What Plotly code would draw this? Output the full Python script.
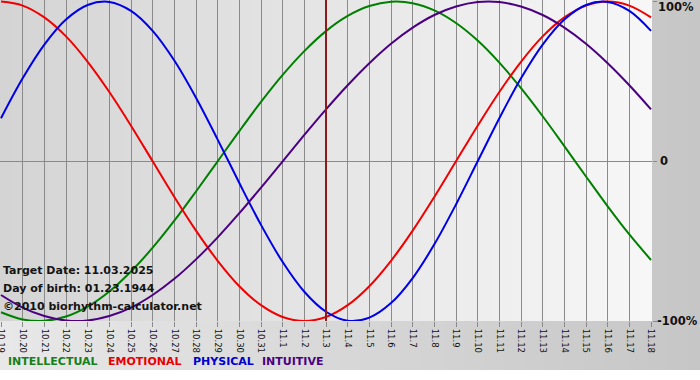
import plotly.graph_objects as go

# ---------------- data ----------------
dates = ["10.19", "10.20", "10.21", "10.22", "10.23", "10.24", "10.25", "10.26",
         "10.27", "10.28", "10.29", "10.30", "10.31", "11.1", "11.2", "11.3",
         "11.4", "11.5", "11.6", "11.7", "11.8", "11.9", "11.10", "11.11",
         "11.12", "11.13", "11.14", "11.15", "11.16", "11.17", "11.18"]

intellectual = [-0.945, -0.990, -0.999, -0.972, -0.910, -0.815, -0.690, -0.541,
                -0.372, -0.189, 0.000, 0.189, 0.372, 0.541, 0.690, 0.815,
                0.910, 0.972, 0.999, 0.990, 0.945, 0.866, 0.756, 0.618,
                0.458, 0.282, 0.095, -0.095, -0.282, -0.458, -0.618]

emotional = [1.000, 0.975, 0.901, 0.782, 0.623, 0.434, 0.223, 0.000,
             -0.223, -0.434, -0.623, -0.782, -0.901, -0.975, -1.000, -0.975,
             -0.901, -0.782, -0.623, -0.434, -0.223, 0.000, 0.223, 0.434,
             0.623, 0.782, 0.901, 0.975, 1.000, 0.975, 0.901]

physical = [0.270, 0.520, 0.731, 0.888, 0.979, 0.998, 0.942, 0.817,
            0.631, 0.398, 0.136, -0.136, -0.398, -0.631, -0.817, -0.942,
            -0.998, -0.979, -0.888, -0.731, -0.520, -0.270, 0.000, 0.270,
            0.520, 0.731, 0.888, 0.979, 0.998, 0.942, 0.817]

intuitive = [-0.837, -0.916, -0.969, -0.997, -0.997, -0.969, -0.916, -0.837,
             -0.736, -0.614, -0.476, -0.325, -0.165, 0.000, 0.165, 0.325,
             0.476, 0.614, 0.736, 0.837, 0.916, 0.969, 0.997, 0.997,
             0.969, 0.916, 0.837, 0.736, 0.614, 0.476, 0.325]

target_label = "11.3"
y_tick_values = [1, 0, -1]
y_tick_labels = ["100%", "0", "-100%"]
legend_names = ["INTELLECTUAL", "EMOTIONAL", "PHYSICAL", "INTUITIVE"]
info_lines = ["Target Date: 11.03.2025", "Day of birth: 01.23.1944",
              "\u00a92010 biorhythm-calculator.net"]

# ---------------- styling ----------------
W, H = 700, 380
L, R, T, B = 0, 48, 0, 59
PW, PH = W - L - R, H - T - B

line_colors = ["#008000", "#f00000", "#0000e6", "#4b0082"]
text_colors = ["#16801a", "#e80000", "#0000d0", "#4b0082"]
FONT = "DejaVu Sans"


def px_x(p):
    return (p - L) / PW


def px_y(p):
    return (H - B - p) / PH


def grey(v):
    v = int(round(v))
    return f"rgb({v},{v},{v})"


shapes = []
# outer (paper) gradient: light left -> darker right
n = 175
for i in range(n):
    x0 = i * W / n
    x1 = (i + 1) * W / n + 0.6
    v = 232 - (232 - 198) * i / (n - 1)
    shapes.append(dict(type="rect", xref="paper", yref="paper",
                       x0=px_x(x0), x1=px_x(x1), y0=px_y(370), y1=px_y(0),
                       fillcolor=grey(v), line_width=0, layer="below"))
# plot area gradient: darker left -> light right
n = 163
for i in range(n):
    x0 = i * PW / n
    x1 = (i + 1) * PW / n + 0.6
    v = 212 + (247 - 212) * i / (n - 1)
    shapes.append(dict(type="rect", xref="paper", yref="paper",
                       x0=px_x(x0), x1=min(1, px_x(x1)), y0=0, y1=1,
                       fillcolor=grey(v), line_width=0, layer="below"))

# target date line (category index of the target day)
target_idx = dates.index(target_label)
shapes.append(dict(type="line", xref="x", yref="paper",
                   x0=target_idx, x1=target_idx, y0=0, y1=1,
                   line=dict(color="#8c1c1c", width=2), layer="above"))

fig = go.Figure()
for name, vals, col in zip(legend_names, [intellectual, emotional, physical, intuitive],
                           line_colors):
    fig.add_trace(go.Scatter(x=dates, y=vals, mode="lines", name=name,
                             line=dict(color=col, width=2, shape="spline", smoothing=1.0),
                             hoverinfo="skip", cliponaxis=True))

annotations = []
# info text
for txt, py in zip(info_lines, [270, 288, 306]):
    annotations.append(dict(text=txt, xref="paper", yref="paper", x=px_x(1), y=px_y(py),
                            xanchor="left", yanchor="middle", showarrow=False,
                            font=dict(family=FONT, size=11, color="#141414", weight="bold")))
# right-side value labels
for txt, v, pxl in zip(y_tick_labels, y_tick_values, [656, 658, 655]):
    py = {1: 7, 0: 161, -1: 321}[v]
    annotations.append(dict(text=txt, xref="paper", yref="paper", x=px_x(pxl), y=px_y(py),
                            xanchor="left", yanchor="middle", showarrow=False,
                            font=dict(family=FONT, size=11.5, color="#111111", weight="bold")))
# legend
for txt, col, pxl in zip(legend_names, text_colors, [6, 106, 191, 260]):
    annotations.append(dict(text=txt, xref="paper", yref="paper", x=px_x(pxl), y=px_y(362),
                            xanchor="left", yanchor="middle", showarrow=False,
                            font=dict(family=FONT, size=11, color=col, weight="bold")))

fig.update_layout(
    template="none",
    width=W, height=H,
    margin=dict(l=L, r=R, t=T, b=B, pad=0, autoexpand=False),
    paper_bgcolor="white", plot_bgcolor="rgba(0,0,0,0)",
    showlegend=False,
    shapes=shapes, annotations=annotations,
    xaxis=dict(type="category", range=[-0.046, len(dates) - 1 + 0.046],
               automargin=False,
               showgrid=True, gridcolor="#8a8a8a", gridwidth=1,
               ticks="outside", ticklen=5, tickcolor="#8a8a8a",
               tickangle=90, tickfont=dict(family=FONT, size=8.5, color="#111111"),
               showline=False, zeroline=False, fixedrange=True),
    yaxis=dict(range=[-1.0, 1.01], side="right", showgrid=False, automargin=False,
               zeroline=True, zerolinecolor="#8a8a8a", zerolinewidth=1,
               tickvals=y_tick_values, showticklabels=False,
               ticks="outside", ticklen=4, tickcolor="#8a8a8a",
               showline=False, fixedrange=True),
)

fig.write_html("out.html", config={"displayModeBar": False},
               post_script="document.body.style.margin='0';document.body.style.overflow='hidden';")
